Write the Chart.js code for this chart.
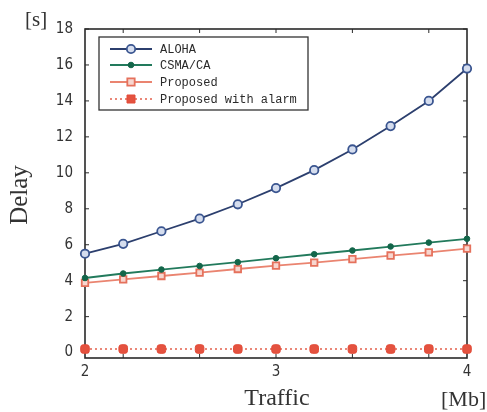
<!DOCTYPE html>
<html>
<head>
<meta charset="utf-8">
<script src="https://cdn.jsdelivr.net/npm/chart.js@4"></script>
<style>
html,body{margin:0;padding:0;background:#fff;}
#wrap{width:487px;height:412px;position:relative;}
</style>
</head>
<body>
<div id="wrap"><canvas id="c" width="487" height="412"></canvas></div>
<script>
const traffic = [2.0, 2.2, 2.4, 2.6, 2.8, 3.0, 3.2, 3.4, 3.6, 3.8, 4.0];
const aloha = [5.5, 6.05, 6.75, 7.45, 8.25, 9.15, 10.15, 11.3, 12.6, 14.0, 15.8];
const csma = [4.15, 4.4, 4.62, 4.82, 5.03, 5.25, 5.47, 5.68, 5.9, 6.12, 6.33];
const proposed = [3.88, 4.07, 4.26, 4.45, 4.65, 4.84, 5.0, 5.2, 5.4, 5.58, 5.78];
const alarm = [0.2, 0.2, 0.2, 0.2, 0.2, 0.2, 0.2, 0.2, 0.2, 0.2, 0.2];
const xTickLabels = [2, 3, 4];
const yTickLabels = [0, 2, 4, 6, 8, 10, 12, 14, 16, 18];
const xMinorTicks = [2.2, 2.6, 3.0, 3.4, 3.8];
const seriesNames = ['ALOHA', 'CSMA/CA', 'Proposed', 'Proposed with alarm'];

const pts = arr => arr.map((v, i) => ({x: traffic[i], y: v}));

const framePlugin = {
  id: 'frame',
  beforeDatasetsDraw(chart) {
    const {ctx, chartArea: a, scales} = chart;
    ctx.save();
    ctx.strokeStyle = '#2a2a2a';
    ctx.lineWidth = 1.6;
    ctx.strokeRect(a.left, a.top, a.right - a.left, a.bottom - a.top);
    ctx.lineWidth = 1;
    ctx.beginPath();
    yTickLabels.forEach(v => {
      const y = scales.y.getPixelForValue(v);
      ctx.moveTo(a.left, y); ctx.lineTo(a.left + 4, y);
      ctx.moveTo(a.right, y); ctx.lineTo(a.right - 4, y);
    });
    xMinorTicks.forEach(v => {
      const x = scales.x.getPixelForValue(v);
      ctx.moveTo(x, a.top); ctx.lineTo(x, a.top + 4);
      ctx.moveTo(x, a.bottom); ctx.lineTo(x, a.bottom - 4);
    });
    ctx.stroke();
    ctx.restore();
  },
  afterDraw(chart) {
    const {ctx} = chart;
    ctx.save();
    ctx.fillStyle = '#333';
    ctx.font = '21px "Liberation Serif", "DejaVu Serif", serif';
    ctx.textBaseline = 'middle';
    ctx.textAlign = 'left';
    ctx.fillText('[s]', 25, 20);
    ctx.font = '22px "Liberation Serif", "DejaVu Serif", serif';
    ctx.fillText('[Mb]', 441, 400);
    ctx.font = '24px "Liberation Serif", "DejaVu Serif", serif';
    ctx.textAlign = 'center';
    ctx.fillText('Traffic', 277, 399);
    ctx.translate(20, 195);
    ctx.rotate(-Math.PI / 2);
    ctx.font = '25px "Liberation Serif", "DejaVu Serif", serif';
    ctx.fillText('Delay', 0, 0);
    ctx.restore();

    // legend
    ctx.save();
    const bx = 99, by = 37, bw = 209, bh = 73;
    ctx.fillStyle = '#fff';
    ctx.fillRect(bx, by, bw, bh);
    ctx.strokeStyle = '#333';
    ctx.lineWidth = 1.3;
    ctx.strokeRect(bx, by, bw, bh);
    const rows = [49, 65, 82, 99];
    chart.data.datasets.forEach((ds, i) => {
      const y = rows[i];
      ctx.save();
      ctx.strokeStyle = ds.borderColor;
      ctx.lineWidth = ds.borderWidth;
      ctx.setLineDash(ds.borderDash || []);
      ctx.beginPath(); ctx.moveTo(110, y); ctx.lineTo(152, y); ctx.stroke();
      ctx.setLineDash([]);
      ctx.fillStyle = ds.pointBackgroundColor;
      ctx.strokeStyle = ds.pointBorderColor;
      ctx.lineWidth = ds.pointBorderWidth;
      ctx.beginPath();
      if (ds.pointStyle === 'circle') {
        ctx.arc(131, y, ds.pointRadius, 0, Math.PI * 2);
      } else {
        const r = ds.pointRadius * 0.8;
        ctx.rect(131 - r, y - r, 2 * r, 2 * r);
      }
      ctx.fill(); ctx.stroke();
      ctx.restore();
      ctx.fillStyle = '#2a2a2a';
      ctx.font = '12px "Liberation Mono", "DejaVu Sans Mono", monospace';
      ctx.textBaseline = 'middle';
      ctx.textAlign = 'left';
      ctx.fillText(ds.label, 160, y + 1);
    });
    ctx.restore();
  }
};

new Chart(document.getElementById('c'), {
  type: 'scatter',
  data: {
    datasets: [
      {label: seriesNames[0], data: pts(aloha), showLine: true, borderColor: '#2c3f6e', borderWidth: 1.8,
       pointStyle: 'circle', pointRadius: 4.2, pointBorderWidth: 1.8, pointBorderColor: '#3a5590', pointBackgroundColor: '#d5ddee', clip: false},
      {label: seriesNames[1], data: pts(csma), showLine: true, borderColor: '#227a5c', borderWidth: 1.8,
       pointStyle: 'circle', pointRadius: 2.8, pointBorderWidth: 1, pointBorderColor: '#13664a', pointBackgroundColor: '#13664a', clip: false},
      {label: seriesNames[2], data: pts(proposed), showLine: true, borderColor: '#ea8470', borderWidth: 1.8,
       pointStyle: 'rect', pointRadius: 4.6, pointBorderWidth: 1.8, pointBorderColor: '#e5715c', pointBackgroundColor: '#f7d6cf', clip: false},
      {label: seriesNames[3], data: pts(alarm), showLine: true, borderColor: '#e4604c', borderWidth: 1.6, borderDash: [2, 3],
       pointStyle: 'rectRounded', pointRadius: 5, pointBorderWidth: 1, pointBorderColor: '#e24b38', pointBackgroundColor: '#e4523f', clip: false}
    ]
  },
  options: {
    responsive: false,
    animation: false,
    events: [],
    layout: {padding: {left: 0, top: 29, right: 20, bottom: 0}},
    plugins: {legend: {display: false}, tooltip: {enabled: false}},
    scales: {
      x: {
        type: 'linear', min: 2, max: 4,
        afterBuildTicks: s => { s.ticks = xTickLabels.map(v => ({value: v})); },
        afterFit: s => { s.height = 54; },
        grid: {display: false, drawTicks: false},
        border: {display: false},
        ticks: {padding: 5, color: '#333', font: {family: '"Liberation Sans Narrow", "DejaVu Sans Condensed", sans-serif', size: 15}}
      },
      y: {
        type: 'linear', min: -0.3, max: 18,
        afterBuildTicks: s => { s.ticks = yTickLabels.map(v => ({value: v})); },
        afterFit: s => { s.width = 85; },
        grid: {display: false, drawTicks: false},
        border: {display: false},
        ticks: {padding: 12, color: '#333', font: {family: '"Liberation Sans Narrow", "DejaVu Sans Condensed", sans-serif', size: 15}}
      }
    }
  },
  plugins: [framePlugin]
});
</script>
</body>
</html>
